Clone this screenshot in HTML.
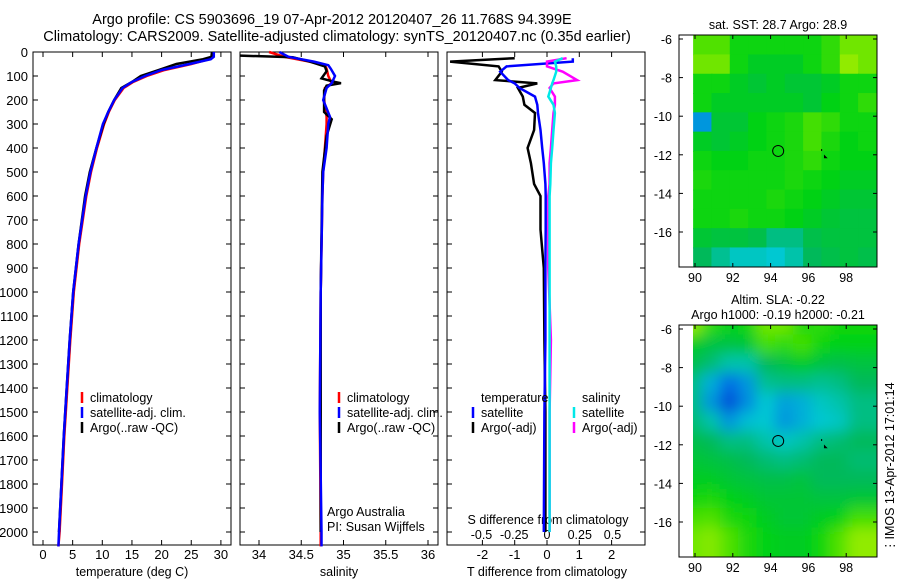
<!DOCTYPE html>
<html><head><meta charset="utf-8">
<style>
html,body{margin:0;padding:0;background:#fff;}
svg{display:block;font-family:"Liberation Sans",sans-serif;}
</style></head>
<body>
<svg id="chart" width="900" height="580" viewBox="0 0 900 580" xmlns="http://www.w3.org/2000/svg">
<text x="332" y="24" font-size="14.5" text-anchor="middle">Argo profile: CS 5903696_19 07-Apr-2012 20120407_26 11.768S 94.399E</text>
<text x="337" y="41" font-size="14.5" text-anchor="middle">Climatology: CARS2009. Satellite-adjusted climatology: synTS_20120407.nc (0.35d earlier)</text>
<g id="g"></g>
</svg>
<script>
// ---------- data ----------
const depthTicks=[0,100,200,300,400,500,600,700,800,900,1000,1100,1200,1300,1400,1500,1600,1700,1800,1900,2000];
const tempTicks=[0,5,10,15,20,25,30];
const salTicks=[34,34.5,35,35.5,36];
const tdiffTicks=[-2,-1,0,1,2];
const sdiffTicks=[-0.5,-0.25,0,0.25,0.5];
const tempDepth=[0,20,30,50,75,100,125,150,200,250,300,400,500,600,800,1000,1200,1400,1600,1800,2000,2060];
const tempClim=[28.6,28.6,28,25,20.5,17.5,15.2,13.6,12.1,11.1,10.3,9.1,8.1,7.3,6.1,5.2,4.6,4.1,3.6,3.2,2.8,2.6];
const tempSat=[28.8,28.8,28.3,24.7,20,17.2,15,13.4,12,11,10.1,9,8,7.2,6,5.1,4.5,4,3.5,3.1,2.7,2.6];
const argoDepth=[0,20,30,50,75,100,125,150,200,250,300,400,500,600,800,1000,1200,1400,1600,1800,2000];
const tempArgo=[28.5,28.4,27,22.5,19.5,16.5,15,13.2,12,11,10.2,9,7.9,7.1,6,5.1,4.5,4,3.5,3.1,2.7];
const salDepth=[0,20,40,55,70,100,130,150,200,270,300,400,500,600,1000,1500,2000,2060];
const salClim=[34.12,34.3,34.6,34.78,34.8,34.82,34.86,34.78,34.77,34.8,34.8,34.78,34.76,34.75,34.73,34.72,34.73,34.73];
const salSat=[34.24,34.35,34.65,34.82,34.85,34.9,34.86,34.8,34.76,34.84,34.82,34.8,34.76,34.75,34.73,34.72,34.74,34.74];
const salArgoDepth=[15,22,40,60,80,110,125,130,140,160,250,280,350,500,1000,2000];
const salArgo=[33.78,34.4,34.6,34.78,34.8,34.74,34.9,34.97,34.8,34.77,34.77,34.86,34.8,34.75,34.73,34.73];
const diffDepth=[26,40,60,82,117,131,150,186,220,254,325,400,463,550,600,740,900,1200,1500,2000];
const tdiffArgo=[-1.0,-3.0,-1.5,-1.4,-1.6,-0.3,-0.9,-0.75,-0.7,-0.37,-0.4,-0.6,-0.5,-0.4,-0.2,-0.2,-0.1,-0.08,-0.05,-0.05];
const tdiffSat=[0.8,0.8,-1.25,-1.45,-1.2,-1.0,-0.85,-0.37,-0.3,-0.28,-0.2,-0.15,-0.1,-0.05,-0.04,-0.04,-0.05,-0.05,-0.08,-0.1];
const sdiffArgo=[0.15,0.0,0.0,0.12,0.23,0.05,0.02,0.06,0.06,0.05,0.04,0.03,0.02,0.02,0.01,0.01,0.01,0.03,0.02,0.02];
const sdiffSat=[0.12,0.06,0.07,0.07,0.05,0.04,0.03,0.01,0.05,0.06,0.05,0.04,0.03,0.025,0.02,0.02,0.02,0.02,0.02,0.02];
const lonTicks=[90,92,94,96,98];
const latTicks=[-6,-8,-10,-12,-14,-16];
const sstGrid=[
[.8,.8,.7,.7,.7,.7,.7,.75,.85,.85],
[.85,.85,.7,.65,.65,.65,.7,.75,.9,.85],
[.7,.7,.65,.62,.65,.62,.62,.65,.7,.7],
[.7,.65,.65,.65,.65,.65,.62,.68,.7,.75],
[.3,.62,.62,.68,.7,.72,.78,.75,.7,.7],
[.65,.62,.65,.68,.7,.72,.78,.72,.68,.7],
[.7,.68,.68,.7,.7,.72,.75,.7,.68,.68],
[.72,.7,.7,.7,.7,.72,.7,.68,.65,.65],
[.7,.7,.7,.7,.72,.7,.68,.65,.62,.62],
[.7,.7,.72,.7,.7,.68,.65,.62,.6,.6],
[.62,.6,.6,.58,.5,.5,.58,.6,.6,.6],
[.55,.48,.42,.42,.4,.45,.55,.58,.6,.58]];
const slaGrid=[
[.9,.75,.68,.7,.85,.85,.72,.75,.7,.7],
[.65,.6,.6,.62,.78,.75,.78,.7,.68,.68],
[.58,.52,.45,.45,.55,.6,.65,.6,.58,.6],
[.5,.35,.22,.3,.48,.5,.5,.48,.5,.55],
[.5,.3,.12,.28,.4,.32,.35,.42,.45,.5],
[.52,.45,.3,.38,.4,.3,.35,.4,.42,.5],
[.58,.55,.5,.5,.45,.42,.45,.5,.52,.55],
[.62,.6,.58,.55,.52,.5,.52,.55,.55,.52],
[.65,.65,.62,.6,.58,.58,.6,.55,.55,.55],
[.7,.72,.68,.65,.62,.62,.62,.6,.6,.62],
[.78,.8,.72,.7,.65,.62,.62,.65,.68,.78],
[.85,.88,.8,.72,.68,.65,.65,.7,.8,.9]];

// ---------- helpers ----------
const NS="http://www.w3.org/2000/svg";
const root=document.getElementById('g');
function mk(tag,attrs,parent){const e=document.createElementNS(NS,tag);for(const k in attrs)e.setAttribute(k,attrs[k]);(parent||root).appendChild(e);return e;}
function txt(x,y,s,anchor,size,parent){const t=mk('text',{x:x,y:y,'font-size':size||13,'text-anchor':anchor||'start'},parent);t.textContent=s;return t;}
const yD=d=>52+d*0.24;
const PT=[33,231],PS=[240,438],PD=[447,645],PB=545;
const xT=v=>43+v*5.93, xS=v=>259+(v-34)*84.5, xTd=v=>547+v*32.3, xSd=v=>547+v*131;

function frame(x0,x1,name){const r=mk('rect',{x:x0,y:52,width:x1-x0,height:PB-52,fill:'none',stroke:'#000','stroke-width':1});

}
function line(xs,ds,fx,color,name,w){
 const pts=xs.map((v,i)=>fx(v).toFixed(1)+','+yD(ds[i]).toFixed(1)).join(' ');
 const p=mk('polyline',{points:pts,fill:'none',stroke:color,'stroke-width':w||2.5});
 
 }
function xticks(ticks,fx,labelY,name){
 const g=mk('g',{});
 
 
 ticks.forEach(v=>{const x=fx(v);mk('line',{x1:x,x2:x,y1:PB,y2:PB-5,stroke:'#000'},g);mk('line',{x1:x,x2:x,y1:52,y2:57,stroke:'#000'},g);if(labelY)txt(x,labelY,String(v),'middle',13,g);});
 return g;}
function legend(x,y,items,name){
 const g=mk('g',{});
 
 
 items.forEach((it,i)=>{const yy=y+i*15;mk('line',{x1:x,x2:x,y1:yy-10,y2:yy+1,stroke:it[1],'stroke-width':2.5},g);txt(x+8,yy,it[0],'start',12.5,g);});}

// depth axis
const dg=mk('g',{});


depthTicks.forEach(d=>{txt(28,yD(d)+5,String(d),'end',13,dg);[PT,PS,PD].forEach(p=>{mk('line',{x1:p[0],x2:p[0]+5,y1:yD(d),y2:yD(d),stroke:'#000'},dg);mk('line',{x1:p[1],x2:p[1]-5,y1:yD(d),y2:yD(d),stroke:'#000'},dg);});});

// panel 1 temperature
frame(PT[0],PT[1],'temperature-panel');
xticks(tempTicks,xT,559,'temperature-x-ticks');
txt(132,576,'temperature (deg C)','middle',12.5);
line(tempClim,tempDepth,xT,'#ff0000','temp-climatology-line');
line(tempArgo,argoDepth,xT,'#000000','temp-argo-line');
line(tempSat,tempDepth,xT,'#0000ff','temp-satellite-line');
legend(82,402,[['climatology','#ff0000'],['satellite-adj. clim.','#0000ff'],['Argo(..raw -QC)','#000000']],'temperature-legend');

// panel 2 salinity
frame(PS[0],PS[1],'salinity-panel');
xticks(salTicks,xS,559,'salinity-x-ticks');
txt(339,576,'salinity','middle',12.5);
line(salClim,salDepth,xS,'#ff0000','sal-climatology-line');
line(salArgo,salArgoDepth,xS,'#000000','sal-argo-line');
line(salSat,salDepth,xS,'#0000ff','sal-satellite-line');
legend(339,402,[['climatology','#ff0000'],['satellite-adj. clim.','#0000ff'],['Argo(..raw -QC)','#000000']],'salinity-legend');
txt(327,516,'Argo Australia','start',12.5);
txt(327,531,'PI: Susan Wijffels','start',12.5);

// panel 3 differences
frame(PD[0],PD[1],'difference-panel');
xticks(tdiffTicks,xTd,559,'tdiff-x-ticks');
const sg=mk('g',{});


sdiffTicks.forEach(v=>txt(xSd(v),539,String(v),'middle',12.5,sg));
txt(548,524,'S difference from climatology','middle',12.5);
txt(547,576,'T difference from climatology','middle',12.5);
line(tdiffArgo,diffDepth,xTd,'#000000','tdiff-argo-line');
line(tdiffSat,diffDepth,xTd,'#0000ff','tdiff-satellite-line');
line(sdiffArgo,diffDepth,xSd,'#ff00ff','sdiff-argo-line');
line(sdiffSat,diffDepth,xSd,'#00e8e8','sdiff-satellite-line');
txt(481,402,'temperature','start',12.5);
txt(582,402,'salinity','start',12.5);
legend(473,417,[['satellite','#0000ff'],['Argo(-adj)','#000000']],'tdiff-legend');
legend(574,417,[['satellite','#00e8e8'],['Argo(-adj)','#ff00ff']],'sdiff-legend');

// maps
const xL=l=>695+(l-90)*18.9;
function color(v){
 const stops=[[0,[0,40,200]],[0.22,[0,110,230]],[0.4,[0,200,210]],[0.55,[0,185,90]],[0.68,[0,210,20]],[0.8,[80,225,0]],[1,[210,245,0]]];
 for(let i=1;i<stops.length;i++){if(v<=stops[i][0]){const a=stops[i-1],b=stops[i],t=(v-a[0])/(b[0]-a[0]);return 'rgb('+a[1].map((c,k)=>Math.round(c+(b[1][k]-c)*t)).join(',')+')';}}
 return 'rgb(210,245,0)';}
function map(grid,top,name,blur,titles){
 const yL=l=>top+4+(-6-l)*19.3;
 const bottom=top+232;
 const g=mk('g',{});
 
 
 const id='clip'+top;
 const cp=mk('clipPath',{id:id},g);mk('rect',{x:693,y:top,width:184,height:232},cp);
 const cg=mk('g',{'clip-path':'url(#'+id+')'},g);
 const inner=mk('g',blur?{filter:'url(#blur)'}:{},cg);
 grid.forEach((row,j)=>row.forEach((v,i)=>{
  const lon=89.9+i*0.97, lat=-5.8-j;
  const r=mk('rect',{x:xL(lon)-(blur?10:0),y:yL(lat)-(blur?10:0),width:0.97*18.9+1+(blur?(i==row.length-1?30:0):0),height:19.3+1+(blur&&j==grid.length-1?30:0),fill:color(v)},inner);
  if(blur){if(i==0){r.setAttribute('x',xL(lon)-20);r.setAttribute('width',0.97*18.9+21);}if(j==0){r.setAttribute('y',yL(lat)-20);r.setAttribute('height',19.3+21);}}
  
  
 }));
 mk('rect',{x:679,y:top,width:198,height:232,fill:'none',stroke:'#000'},g);
 lonTicks.forEach(l=>{mk('line',{x1:xL(l),x2:xL(l),y1:bottom,y2:bottom-4,stroke:'#000'},g);mk('line',{x1:xL(l),x2:xL(l),y1:top,y2:top+4,stroke:'#000'},g);txt(xL(l),bottom+15,String(l),'middle',12.5,g);});
 latTicks.forEach(l=>{mk('line',{x1:679,x2:683,y1:yL(l),y2:yL(l),stroke:'#000'},g);mk('line',{x1:877,x2:873,y1:yL(l),y2:yL(l),stroke:'#000'},g);txt(672,yL(l)+5,String(l),'end',12.5,g);});
 const c=mk('circle',{cx:xL(94.4),cy:yL(-11.8),r:5.5,fill:'none',stroke:'#000','stroke-width':1},g);
 
 
 mk('path',{d:'M'+xL(96.7)+' '+yL(-11.7)+'v2 M'+xL(96.85)+' '+yL(-12.05)+'l2 2 l-2 0z',stroke:'#000',fill:'none','stroke-width':1},g);
 titles.forEach((t,k)=>txt(778,top-(titles.length-k-1)*15-6,t,'middle',12.5,g));
}
const defs=mk('defs',{});
const f=mk('filter',{id:'blur',x:'-10%',y:'-10%',width:'120%',height:'120%'},defs);
mk('feGaussianBlur',{stdDeviation:7},f);
map(sstGrid,35,'sst-map',false,['sat. SST: 28.7 Argo: 28.9']);
map(slaGrid,325,'sla-map',true,['Altim. SLA: -0.22','Argo h1000: -0.19 h2000: -0.21']);
const it=txt(0,0,'\u22EEIMOS 13-Apr-2012 17:01:14','start',12.5);
it.setAttribute('transform','translate(894,552) rotate(-90)');


</script>
</body></html>
